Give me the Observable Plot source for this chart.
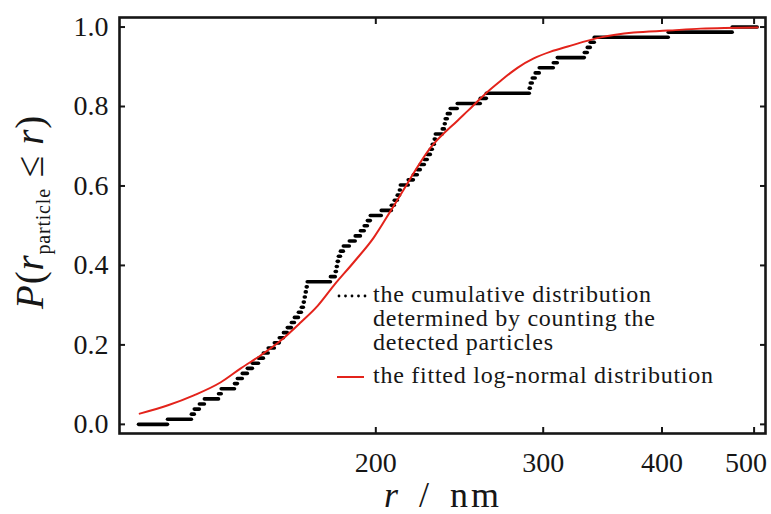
<!DOCTYPE html>
<html>
<head>
<meta charset="utf-8">
<script src="https://cdn.jsdelivr.net/npm/d3@7"></script>
<script src="https://cdn.jsdelivr.net/npm/@observablehq/plot@0.6"></script>
<style>
  body { margin: 0; background: #fff; }
  #chart { width: 771px; height: 514px; }
</style>
</head>
<body>
<div id="chart"></div>
<script>
// ---- data ----
// sorted particle radii (nm) at which the empirical CDF jumps by 1/N
const particleRadii = [
  120.9, 128.1, 129.0, 130.6, 132.2, 136.8, 137.7, 142.2, 143.2, 144.9,
  146.7, 148.5, 150.7, 152.5, 154.3, 156.6, 158.5, 160.1, 161.6, 163.2,
  164.4, 166.0, 167.2, 168.0, 168.4, 168.8, 169.2, 169.6, 179.4, 181.5,
  182.0, 182.4, 182.9, 183.8, 185.1, 187.8, 190.5, 192.9, 194.7, 196.2,
  197.6, 202.9, 207.9, 209.4, 210.9, 212.0, 212.5, 216.6, 219.3, 221.4,
  223.0, 225.2, 226.8, 228.5, 229.6, 230.7, 231.3, 235.2, 236.4, 236.9,
  238.1, 239.8, 243.9, 257.9, 261.7, 290.4, 291.1, 292.5, 294.6, 297.5,
  307.8, 310.8, 331.8, 334.2, 336.6, 339.9, 406.6, 474.7
];
const ecdfRange = [112.7, 504.3];

// fitted log-normal curve
const fitRadius = [112.9, 120.9, 128.7, 137.4, 144.2, 151.4, 158.9, 166.8, 173.8, 180.7,
  189.6, 199.0, 207.4, 212.5, 228.5, 243.9, 249.9, 261.0, 270.7, 282.1,
  293.2, 305.5, 318.4, 344.9, 373.5, 405.6, 439.3, 504.3];
const fitProb = [0.027, 0.048, 0.073, 0.106, 0.141, 0.174, 0.211, 0.257, 0.299, 0.350,
  0.408, 0.470, 0.538, 0.579, 0.697, 0.765, 0.789, 0.833, 0.865, 0.898,
  0.921, 0.938, 0.951, 0.974, 0.986, 0.991, 0.996, 0.999];

const xTicks = [200, 300, 400, 500];
const yTicks = [0, 0.2, 0.4, 0.6, 0.8, 1.0];
const legendLines = [
  "the cumulative distribution",
  "determined by counting the",
  "detected particles",
  "the fitted log-normal distribution"
];

// ---- build tables ----
const N = particleRadii.length;
const steps = d3.range(N + 1).map(k => ({
  x1: k === 0 ? ecdfRange[0] : particleRadii[k - 1],
  x2: k === N ? ecdfRange[1] : particleRadii[k],
  p: k / N
}));
const fit = fitRadius.map((r, i) => ({r, p: fitProb[i]}));

const font = "'Liberation Serif', 'DejaVu Serif', serif";
const ink = "#161616";
const red = "#e3231b";

const chart = Plot.plot({
  width: 771,
  height: 514,
  marginLeft: 119,
  marginRight: 6,
  marginTop: 17,
  marginBottom: 81,
  style: {fontFamily: font, fontSize: "28px", color: ink, background: "#fff"},
  x: {type: "log", domain: [107.5, 514]},
  y: {domain: [-0.023, 1.024]},
  marks: [
    Plot.ruleY(steps, {x1: "x1", x2: "x2", y: "p", stroke: "#000", strokeWidth: 3.6, strokeLinecap: "round"}),
    Plot.line(fit, {x: "r", y: "p", stroke: red, strokeWidth: 2, curve: "monotone-x"}),
    // inward tick marks on all four sides
    Plot.axisX(xTicks, {anchor: "bottom", tickSize: -6, strokeWidth: 2, label: null, tickFormat: () => ""}),
    Plot.axisX(xTicks, {anchor: "top", tickSize: -6, strokeWidth: 2, label: null, tickFormat: () => ""}),
    Plot.axisY(yTicks, {anchor: "left", tickSize: -6, strokeWidth: 2, label: null, tickFormat: () => ""}),
    Plot.axisY(yTicks, {anchor: "right", tickSize: -6, strokeWidth: 2, label: null, tickFormat: () => ""}),
    // tick labels
    Plot.axisX(xTicks.slice(0, 3), {anchor: "bottom", tickSize: 0, tickPadding: 19, label: null, tickFormat: d => String(d)}),
    Plot.axisX(xTicks.slice(3), {anchor: "bottom", tickSize: 0, tickPadding: 19, dx: -8, label: null, tickFormat: d => String(d)}),
    Plot.axisY(yTicks, {anchor: "left", tickSize: 0, tickPadding: 11, label: null, tickFormat: d3.format(".1f")}),
    Plot.frame({stroke: ink, strokeWidth: 2.6})
  ]
});

const svg = d3.select(chart);

// y-axis title
const yt = svg.append("text")
  .attr("transform", "translate(43,212) rotate(-90)")
  .attr("text-anchor", "middle")
  .attr("font-family", font)
  .attr("font-size", 39)
  .attr("fill", ink)
  .style("letter-spacing", "0.8px");
yt.append("tspan").attr("font-style", "italic").text("P");
yt.append("tspan").text("(");
yt.append("tspan").attr("font-style", "italic").text("r");
yt.append("tspan").attr("font-size", 20).attr("dy", 7).text("particle");
yt.append("tspan").attr("dy", -7).text(" \u2264 ");
yt.append("tspan").attr("font-style", "italic").text("r");
yt.append("tspan").text(")");

// x-axis title
const xt = svg.append("text")
  .attr("x", 443).attr("y", 507)
  .attr("text-anchor", "middle")
  .attr("font-family", font)
  .attr("font-size", 36)
  .attr("fill", ink)
  .style("letter-spacing", "3px")
  .style("word-spacing", "6px");
xt.append("tspan").attr("font-style", "italic").text("r");
xt.append("tspan").text(" / nm");

// legend
const lg = svg.append("g").attr("font-family", font).attr("font-size", 24).attr("fill", ink)
  .attr("text-anchor", "start")
  .style("letter-spacing", "0.75px");
lg.append("line").attr("x1", 339).attr("x2", 366).attr("y1", 296).attr("y2", 296)
  .attr("stroke", "#000").attr("stroke-width", 2.8).attr("stroke-linecap", "round")
  .attr("stroke-dasharray", "0 6.5");
lg.append("line").attr("x1", 337).attr("x2", 364).attr("y1", 377).attr("y2", 377)
  .attr("stroke", red).attr("stroke-width", 2);
const baselines = [302, 326, 350, 383];
legendLines.forEach((t, i) => {
  lg.append("text").attr("x", 373).attr("y", baselines[i]).attr("text-anchor", "start").text(t);
});

document.getElementById("chart").appendChild(chart);
</script>
</body>
</html>
